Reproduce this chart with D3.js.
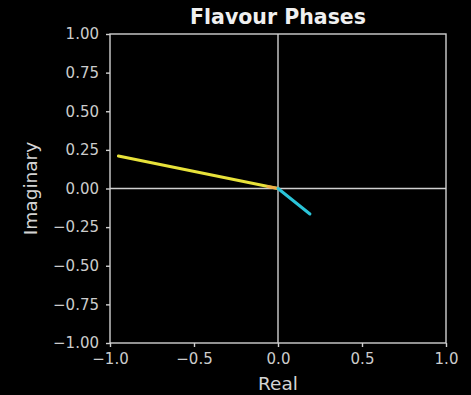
<!DOCTYPE html>
<html>
<head>
<meta charset="utf-8">
<script src="https://cdn.jsdelivr.net/npm/d3@7"></script>
<style>
  html, body { margin: 0; padding: 0; background: #000; }
  svg { display: block; }
  text { font-family: "DejaVu Sans", sans-serif; }
</style>
</head>
<body>
<svg id="chart" width="471" height="395"></svg>
<script>
// Phase vectors in the complex plane: [real, imaginary] end points from the origin
const phaseNames = ["yellow", "orange", "cyan"];
const phaseReal = [-0.95, -0.06, 0.19];
const phaseImag = [0.21, 0.012, -0.165];
const phaseColors = ["#e8e23a", "#f0a050", "#2bc4d8"];

const xTicks = [-1.0, -0.5, 0.0, 0.5, 1.0];
const yTicks = [-1.0, -0.75, -0.5, -0.25, 0.0, 0.25, 0.5, 0.75, 1.0];

const margin = { left: 110, right: 24, top: 34, bottom: 52 };
const W = 471, H = 395;
const svg = d3.select("#chart");
svg.append("rect").attr("width", W).attr("height", H).attr("fill", "#000");

const x = d3.scaleLinear().domain([-1, 1]).range([margin.left, W - margin.right - 1]);
const y = d3.scaleLinear().domain([-1, 1]).range([H - margin.bottom, margin.top]);

const axisColor = "#d0d0d0";

// reference lines through the origin
svg.append("line")
  .attr("x1", x(-1)).attr("x2", x(1)).attr("y1", y(0)).attr("y2", y(0))
  .attr("stroke", axisColor).attr("stroke-width", 1.4);
svg.append("line")
  .attr("x1", x(0)).attr("x2", x(0)).attr("y1", y(-1)).attr("y2", y(1))
  .attr("stroke", axisColor).attr("stroke-width", 1.4);

// phase vectors
phaseNames.forEach((n, i) => {
  svg.append("line")
    .attr("x1", x(0)).attr("y1", y(0))
    .attr("x2", x(phaseReal[i])).attr("y2", y(phaseImag[i]))
    .attr("stroke", phaseColors[i]).attr("stroke-width", 3)
    .attr("stroke-linecap", "round")
    .attr("opacity", n === "orange" ? 0.8 : 1);
});

// frame
svg.append("rect")
  .attr("x", x(-1)).attr("y", y(1))
  .attr("width", x(1) - x(-1)).attr("height", y(-1) - y(1))
  .attr("fill", "none").attr("stroke", axisColor).attr("stroke-width", 1.4);

const xAxis = d3.axisBottom(x).tickValues(xTicks).tickSize(4).tickPadding(6)
  .tickFormat(d => d3.format(".1f")(d).replace("-", "\u2212"));
const yAxis = d3.axisLeft(y).tickValues(yTicks).tickSize(4).tickPadding(7)
  .tickFormat(d => d3.format(".2f")(d).replace("-", "\u2212"));

function styleAxis(g) {
  g.select(".domain").remove();
  g.selectAll(".tick line").attr("stroke", axisColor).attr("stroke-width", 1.4);
  g.selectAll(".tick text").attr("fill", "#cccccc").attr("font-size", 15)
    .attr("font-family", "DejaVu Sans, sans-serif");
}

svg.append("g").attr("transform", `translate(0,${y(-1)})`).call(xAxis).call(styleAxis);
svg.append("g").attr("transform", `translate(${x(-1)},0)`).call(yAxis).call(styleAxis);

// titles
svg.append("text")
  .attr("x", (x(-1) + x(1)) / 2).attr("y", 24)
  .attr("text-anchor", "middle").attr("fill", "#f0f0f0")
  .attr("font-size", 20.5).attr("font-weight", "bold")
  .text("Flavour Phases");

svg.append("text")
  .attr("x", (x(-1) + x(1)) / 2).attr("y", 390)
  .attr("text-anchor", "middle").attr("fill", "#d4d4d4")
  .attr("font-size", 18.5)
  .text("Real");

svg.append("text")
  .attr("transform", `translate(37,${(y(-1) + y(1)) / 2}) rotate(-90)`)
  .attr("text-anchor", "middle").attr("fill", "#d4d4d4")
  .attr("font-size", 18.5)
  .text("Imaginary");
</script>
</body>
</html>
